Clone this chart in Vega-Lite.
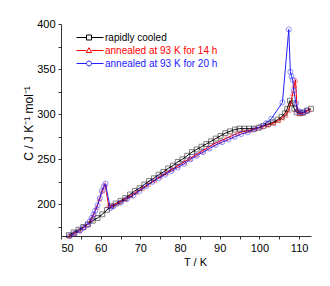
{
  "$schema": "https://vega.github.io/schema/vega-lite/v6.json",
  "width": 250,
  "height": 212,
  "autosize": {"type": "none"},
  "padding": {"left": 61, "top": 24, "right": 19, "bottom": 50},
  "background": "white",
  "config": {
    "view": {"stroke": null},
    "font": "Liberation Sans",
    "axis": {
      "grid": false,
      "domainColor": "#333333",
      "tickColor": "#333333",
      "tickSize": 3,
      "labelFontSize": 11,
      "labelColor": "#000000",
      "titleFontSize": 11,
      "titleFontWeight": "normal",
      "titleColor": "#000000",
      "labelFont": "Liberation Sans",
      "titleFont": "Liberation Sans"
    }
  },
  "datasets": {
    "cp": [
      {"series": "rapidly cooled", "T": 52.0, "C": 166},
      {"series": "rapidly cooled", "T": 53.2, "C": 169},
      {"series": "rapidly cooled", "T": 54.4, "C": 172},
      {"series": "rapidly cooled", "T": 55.6, "C": 175},
      {"series": "rapidly cooled", "T": 56.8, "C": 178},
      {"series": "rapidly cooled", "T": 58.0, "C": 182},
      {"series": "rapidly cooled", "T": 59.2, "C": 185},
      {"series": "rapidly cooled", "T": 60.4, "C": 189},
      {"series": "rapidly cooled", "T": 61.6, "C": 194},
      {"series": "rapidly cooled", "T": 62.6, "C": 198},
      {"series": "rapidly cooled", "T": 63.8, "C": 201},
      {"series": "rapidly cooled", "T": 65.0, "C": 204},
      {"series": "rapidly cooled", "T": 66.2, "C": 207},
      {"series": "rapidly cooled", "T": 67.4, "C": 211},
      {"series": "rapidly cooled", "T": 68.6, "C": 215},
      {"series": "rapidly cooled", "T": 69.8, "C": 218},
      {"series": "rapidly cooled", "T": 71.0, "C": 222},
      {"series": "rapidly cooled", "T": 72.2, "C": 226},
      {"series": "rapidly cooled", "T": 73.4, "C": 229},
      {"series": "rapidly cooled", "T": 74.6, "C": 233},
      {"series": "rapidly cooled", "T": 75.8, "C": 236},
      {"series": "rapidly cooled", "T": 77.0, "C": 240},
      {"series": "rapidly cooled", "T": 78.2, "C": 243},
      {"series": "rapidly cooled", "T": 79.4, "C": 247},
      {"series": "rapidly cooled", "T": 80.6, "C": 250},
      {"series": "rapidly cooled", "T": 81.8, "C": 254},
      {"series": "rapidly cooled", "T": 83.0, "C": 258},
      {"series": "rapidly cooled", "T": 84.2, "C": 261},
      {"series": "rapidly cooled", "T": 85.4, "C": 264},
      {"series": "rapidly cooled", "T": 86.6, "C": 267},
      {"series": "rapidly cooled", "T": 87.8, "C": 270},
      {"series": "rapidly cooled", "T": 89.0, "C": 273},
      {"series": "rapidly cooled", "T": 90.2, "C": 276},
      {"series": "rapidly cooled", "T": 91.4, "C": 279},
      {"series": "rapidly cooled", "T": 92.6, "C": 281},
      {"series": "rapidly cooled", "T": 93.8, "C": 283},
      {"series": "rapidly cooled", "T": 95.0, "C": 284},
      {"series": "rapidly cooled", "T": 96.2, "C": 284},
      {"series": "rapidly cooled", "T": 97.4, "C": 284},
      {"series": "rapidly cooled", "T": 98.6, "C": 284},
      {"series": "rapidly cooled", "T": 99.8, "C": 285},
      {"series": "rapidly cooled", "T": 101.0, "C": 287},
      {"series": "rapidly cooled", "T": 102.2, "C": 289},
      {"series": "rapidly cooled", "T": 103.4, "C": 291},
      {"series": "rapidly cooled", "T": 104.6, "C": 294},
      {"series": "rapidly cooled", "T": 105.6, "C": 297},
      {"series": "rapidly cooled", "T": 106.4, "C": 301},
      {"series": "rapidly cooled", "T": 107.0, "C": 306},
      {"series": "rapidly cooled", "T": 107.7, "C": 315},
      {"series": "rapidly cooled", "T": 108.3, "C": 312},
      {"series": "rapidly cooled", "T": 108.8, "C": 306},
      {"series": "rapidly cooled", "T": 109.4, "C": 302},
      {"series": "rapidly cooled", "T": 110.2, "C": 301},
      {"series": "rapidly cooled", "T": 111.0, "C": 302},
      {"series": "rapidly cooled", "T": 112.0, "C": 304},
      {"series": "rapidly cooled", "T": 113.0, "C": 306},

      {"series": "annealed at 93 K for 14 h", "T": 52.0, "C": 165},
      {"series": "annealed at 93 K for 14 h", "T": 53.3, "C": 168},
      {"series": "annealed at 93 K for 14 h", "T": 54.6, "C": 171},
      {"series": "annealed at 93 K for 14 h", "T": 55.8, "C": 175},
      {"series": "annealed at 93 K for 14 h", "T": 56.8, "C": 178},
      {"series": "annealed at 93 K for 14 h", "T": 57.6, "C": 183},
      {"series": "annealed at 93 K for 14 h", "T": 58.3, "C": 189},
      {"series": "annealed at 93 K for 14 h", "T": 59.0, "C": 197},
      {"series": "annealed at 93 K for 14 h", "T": 59.7, "C": 206},
      {"series": "annealed at 93 K for 14 h", "T": 60.4, "C": 215},
      {"series": "annealed at 93 K for 14 h", "T": 61.1, "C": 222},
      {"series": "annealed at 93 K for 14 h", "T": 62.0, "C": 199},
      {"series": "annealed at 93 K for 14 h", "T": 63.0, "C": 199},
      {"series": "annealed at 93 K for 14 h", "T": 64.5, "C": 202},
      {"series": "annealed at 93 K for 14 h", "T": 66.0, "C": 205.5},
      {"series": "annealed at 93 K for 14 h", "T": 67.5, "C": 209.5},
      {"series": "annealed at 93 K for 14 h", "T": 69.0, "C": 213.5},
      {"series": "annealed at 93 K for 14 h", "T": 70.5, "C": 218},
      {"series": "annealed at 93 K for 14 h", "T": 72.0, "C": 222.5},
      {"series": "annealed at 93 K for 14 h", "T": 73.5, "C": 226.5},
      {"series": "annealed at 93 K for 14 h", "T": 75.0, "C": 231},
      {"series": "annealed at 93 K for 14 h", "T": 76.5, "C": 235},
      {"series": "annealed at 93 K for 14 h", "T": 78.0, "C": 239},
      {"series": "annealed at 93 K for 14 h", "T": 79.5, "C": 243},
      {"series": "annealed at 93 K for 14 h", "T": 81.0, "C": 247},
      {"series": "annealed at 93 K for 14 h", "T": 82.5, "C": 251},
      {"series": "annealed at 93 K for 14 h", "T": 84.0, "C": 255},
      {"series": "annealed at 93 K for 14 h", "T": 85.5, "C": 259},
      {"series": "annealed at 93 K for 14 h", "T": 87.0, "C": 263},
      {"series": "annealed at 93 K for 14 h", "T": 88.5, "C": 267},
      {"series": "annealed at 93 K for 14 h", "T": 90.0, "C": 270},
      {"series": "annealed at 93 K for 14 h", "T": 91.5, "C": 273},
      {"series": "annealed at 93 K for 14 h", "T": 93.0, "C": 276},
      {"series": "annealed at 93 K for 14 h", "T": 94.5, "C": 279},
      {"series": "annealed at 93 K for 14 h", "T": 96.0, "C": 281},
      {"series": "annealed at 93 K for 14 h", "T": 97.5, "C": 282},
      {"series": "annealed at 93 K for 14 h", "T": 99.0, "C": 284},
      {"series": "annealed at 93 K for 14 h", "T": 100.5, "C": 286},
      {"series": "annealed at 93 K for 14 h", "T": 102.0, "C": 288},
      {"series": "annealed at 93 K for 14 h", "T": 103.5, "C": 290},
      {"series": "annealed at 93 K for 14 h", "T": 104.8, "C": 293},
      {"series": "annealed at 93 K for 14 h", "T": 105.8, "C": 296},
      {"series": "annealed at 93 K for 14 h", "T": 106.6, "C": 299},
      {"series": "annealed at 93 K for 14 h", "T": 107.3, "C": 304},
      {"series": "annealed at 93 K for 14 h", "T": 107.9, "C": 312},
      {"series": "annealed at 93 K for 14 h", "T": 108.4, "C": 323},
      {"series": "annealed at 93 K for 14 h", "T": 108.8, "C": 332},
      {"series": "annealed at 93 K for 14 h", "T": 109.1, "C": 338},
      {"series": "annealed at 93 K for 14 h", "T": 109.5, "C": 305},
      {"series": "annealed at 93 K for 14 h", "T": 110.0, "C": 301},
      {"series": "annealed at 93 K for 14 h", "T": 110.8, "C": 301},
      {"series": "annealed at 93 K for 14 h", "T": 111.6, "C": 303},
      {"series": "annealed at 93 K for 14 h", "T": 112.5, "C": 305},

      {"series": "annealed at 93 K for 20 h", "T": 52.2, "C": 165},
      {"series": "annealed at 93 K for 20 h", "T": 53.5, "C": 168},
      {"series": "annealed at 93 K for 20 h", "T": 54.8, "C": 171},
      {"series": "annealed at 93 K for 20 h", "T": 55.6, "C": 174},
      {"series": "annealed at 93 K for 20 h", "T": 56.5, "C": 177},
      {"series": "annealed at 93 K for 20 h", "T": 57.2, "C": 181},
      {"series": "annealed at 93 K for 20 h", "T": 57.7, "C": 185},
      {"series": "annealed at 93 K for 20 h", "T": 58.2, "C": 189},
      {"series": "annealed at 93 K for 20 h", "T": 58.6, "C": 193},
      {"series": "annealed at 93 K for 20 h", "T": 59.2, "C": 199},
      {"series": "annealed at 93 K for 20 h", "T": 59.8, "C": 207},
      {"series": "annealed at 93 K for 20 h", "T": 60.3, "C": 215},
      {"series": "annealed at 93 K for 20 h", "T": 60.8, "C": 220},
      {"series": "annealed at 93 K for 20 h", "T": 61.2, "C": 223},
      {"series": "annealed at 93 K for 20 h", "T": 62.4, "C": 196},
      {"series": "annealed at 93 K for 20 h", "T": 63.2, "C": 198},
      {"series": "annealed at 93 K for 20 h", "T": 65.0, "C": 202},
      {"series": "annealed at 93 K for 20 h", "T": 66.6, "C": 206},
      {"series": "annealed at 93 K for 20 h", "T": 68.2, "C": 210},
      {"series": "annealed at 93 K for 20 h", "T": 69.8, "C": 215},
      {"series": "annealed at 93 K for 20 h", "T": 71.4, "C": 220},
      {"series": "annealed at 93 K for 20 h", "T": 73.0, "C": 225},
      {"series": "annealed at 93 K for 20 h", "T": 74.6, "C": 229},
      {"series": "annealed at 93 K for 20 h", "T": 76.2, "C": 233},
      {"series": "annealed at 93 K for 20 h", "T": 77.8, "C": 237},
      {"series": "annealed at 93 K for 20 h", "T": 79.4, "C": 241},
      {"series": "annealed at 93 K for 20 h", "T": 81.0, "C": 245},
      {"series": "annealed at 93 K for 20 h", "T": 82.6, "C": 250},
      {"series": "annealed at 93 K for 20 h", "T": 84.2, "C": 254},
      {"series": "annealed at 93 K for 20 h", "T": 85.8, "C": 258},
      {"series": "annealed at 93 K for 20 h", "T": 87.4, "C": 262},
      {"series": "annealed at 93 K for 20 h", "T": 89.0, "C": 266},
      {"series": "annealed at 93 K for 20 h", "T": 90.6, "C": 269},
      {"series": "annealed at 93 K for 20 h", "T": 92.2, "C": 272},
      {"series": "annealed at 93 K for 20 h", "T": 93.8, "C": 275},
      {"series": "annealed at 93 K for 20 h", "T": 95.4, "C": 278},
      {"series": "annealed at 93 K for 20 h", "T": 97.0, "C": 280},
      {"series": "annealed at 93 K for 20 h", "T": 98.6, "C": 283},
      {"series": "annealed at 93 K for 20 h", "T": 100.2, "C": 286},
      {"series": "annealed at 93 K for 20 h", "T": 101.7, "C": 290},
      {"series": "annealed at 93 K for 20 h", "T": 103.0, "C": 295},
      {"series": "annealed at 93 K for 20 h", "T": 105.8, "C": 313},
      {"series": "annealed at 93 K for 20 h", "T": 107.4, "C": 394},
      {"series": "annealed at 93 K for 20 h", "T": 107.8, "C": 347},
      {"series": "annealed at 93 K for 20 h", "T": 108.1, "C": 342},
      {"series": "annealed at 93 K for 20 h", "T": 108.4, "C": 338},
      {"series": "annealed at 93 K for 20 h", "T": 108.7, "C": 326},
      {"series": "annealed at 93 K for 20 h", "T": 109.2, "C": 312},
      {"series": "annealed at 93 K for 20 h", "T": 109.7, "C": 304},
      {"series": "annealed at 93 K for 20 h", "T": 110.4, "C": 302},
      {"series": "annealed at 93 K for 20 h", "T": 111.2, "C": 302},
      {"series": "annealed at 93 K for 20 h", "T": 112.0, "C": 304}
    ]
  },
  "data": {"name": "cp"},
  "encoding": {
    "x": {
      "field": "T", "type": "quantitative",
      "scale": {"domain": [50, 113], "nice": false, "zero": false},
      "axis": {
        "title": "T / K",
        "values": [50, 55, 60, 65, 70, 75, 80, 85, 90, 95, 100, 105, 110],
        "labelExpr": "datum.value % 10 === 0 ? datum.label : ''",
        "labelPadding": 3,
        "titlePadding": 3,
        "titleX": 134
      }
    },
    "y": {
      "field": "C", "type": "quantitative",
      "scale": {"domain": [165, 400], "nice": false, "zero": false},
      "axis": {
        "title": "C / J K⁻¹ mol⁻¹",
        "titleFontSize": 12,
        "values": [175, 200, 225, 250, 275, 300, 325, 350, 375, 400],
        "labelExpr": "datum.value % 50 === 0 ? datum.label : ''",
        "labelPadding": 3,
        "titlePadding": 1,
        "titleY": 99
      }
    },
    "color": {
      "field": "series", "type": "nominal",
      "scale": {
        "domain": ["rapidly cooled", "annealed at 93 K for 14 h", "annealed at 93 K for 20 h"],
        "range": ["#000000", "#ff0000", "#2020ff"]
      },
      "legend": {
        "title": null,
        "orient": "none",
        "legendX": 15,
        "legendY": 8,
        "padding": 0,
        "symbolSize": 100,
        "symbolStrokeWidth": 1,
        "labelOffset": 18,
        "labelFontSize": 10,
        "labelFont": "Liberation Sans",
        "rowPadding": 2,
        "encode": {
          "symbols": {"update": {
            "shape": {"signal": "datum.value === 'rapidly cooled' ? 'M-1,0H1M2,0H4.4M1,-0.5H2V0.5H1Z' : datum.value === 'annealed at 93 K for 14 h' ? 'M-1,0H0.95M2.05,0H4.4M1.5,-0.55L2.05,0.4H0.95Z' : 'M-1,0H1M2,0H4.4M1,0A0.5,0.5 0 1,0 2,0A0.5,0.5 0 1,0 1,0Z'"},
            "fill": {"value": "transparent"},
            "stroke": {"signal": "datum.value === 'rapidly cooled' ? '#000000' : datum.value === 'annealed at 93 K for 14 h' ? '#ff0000' : '#2020ff'"},
            "opacity": {"value": 1}
          }},
          "labels": {"update": {
            "fill": {"signal": "datum.value === 'rapidly cooled' ? '#000000' : datum.value === 'annealed at 93 K for 14 h' ? '#ff0000' : '#2020ff'"}
          }}
        }
      }
    }
  },
  "layer": [
    {"mark": {"type": "line", "strokeWidth": 1}},
    {
      "transform": [{"filter": "datum.series === 'rapidly cooled'"}],
      "mark": {"type": "point", "shape": "square", "filled": false, "size": 24, "opacity": 0.5, "strokeWidth": 1}
    },
    {
      "transform": [{"filter": "datum.series === 'annealed at 93 K for 14 h'"}],
      "mark": {"type": "point", "shape": "triangle-up", "filled": false, "size": 24, "opacity": 0.4, "strokeWidth": 1}
    },
    {
      "transform": [{"filter": "datum.series === 'annealed at 93 K for 20 h'"}],
      "mark": {"type": "point", "shape": "circle", "filled": false, "size": 26, "opacity": 0.5, "strokeWidth": 1}
    }
  ]
}
